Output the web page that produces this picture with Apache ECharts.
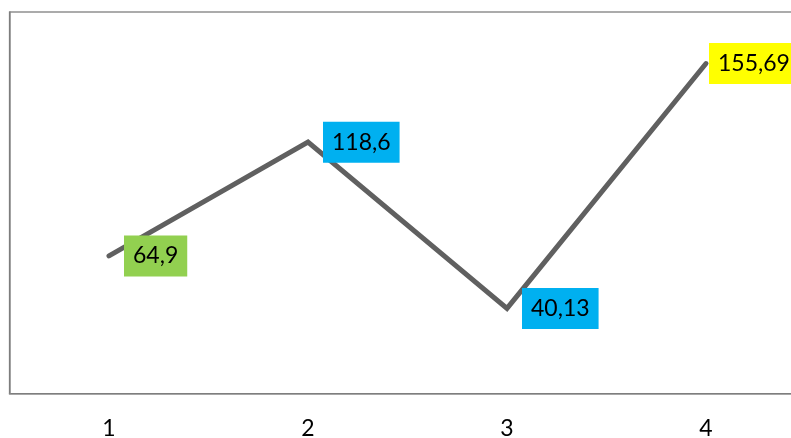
<!DOCTYPE html>
<html>
<head>
<meta charset="utf-8">
<script src="https://cdn.jsdelivr.net/npm/echarts@6/dist/echarts.min.js"></script>
<style>
  html, body { margin: 0; padding: 0; background: #fff; }
  #chart { width: 791px; height: 438px; }
</style>
</head>
<body>
<div id="chart"></div>
<script>
// Category labels along the bottom axis
const categories = ['1', '2', '3', '4'];
// Series values
const values = [64.9, 118.6, 40.13, 155.69];
// Fill colour of each value label
const labelColors = ['#92D050', '#00B0F0', '#00B0F0', '#FFFF00'];
// Gap between point and its label
const labelGaps = [15, 15, 15, 3];

const fmt = v => String(v).replace('.', ',');

const chart = echarts.init(document.getElementById('chart'), null, { renderer: 'canvas' });

chart.setOption({
  animation: false,
  backgroundColor: '#ffffff',
  grid: {
    left: 9.5,
    top: 12,
    bottom: 44.5,
    width: 796,
    outerBoundsMode: 'none',
    containLabel: false,
    show: true,
    borderColor: '#595959',
    borderWidth: 1.2,
    backgroundColor: 'transparent'
  },
  xAxis: {
    type: 'category',
    data: categories,
    boundaryGap: true,
    axisLine: { show: true, lineStyle: { color: '#8a8a8a', width: 1.5 } },
    axisTick: { show: false },
    splitLine: { show: false },
    axisLabel: {
      color: '#000',
      fontFamily: 'Lato',
      fontSize: 23,
      margin: 24
    }
  },
  yAxis: {
    type: 'value',
    min: 0,
    max: 180,
    axisLine: { show: true, lineStyle: { color: '#8a8a8a', width: 1.5 } },
    axisTick: { show: false },
    axisLabel: { show: false },
    splitLine: { show: false }
  },
  series: [{
    type: 'line',
    data: values.map((v, i) => ({
      value: v,
      label: {
        backgroundColor: labelColors[i],
        distance: labelGaps[i]
      }
    })),
    showSymbol: true,
    symbol: 'circle',
    symbolSize: 0,
    itemStyle: { color: '#606060' },
    lineStyle: { color: '#606060', width: 5, cap: 'round', join: 'miter' },
    label: {
      show: true,
      position: 'right',
      formatter: p => fmt(p.value),
      color: '#000',
      fontFamily: 'Lato',
      fontSize: 23,
      lineHeight: 23,
      padding: [9, 9, 9, 9]
    }
  }]
});
</script>
</body>
</html>
